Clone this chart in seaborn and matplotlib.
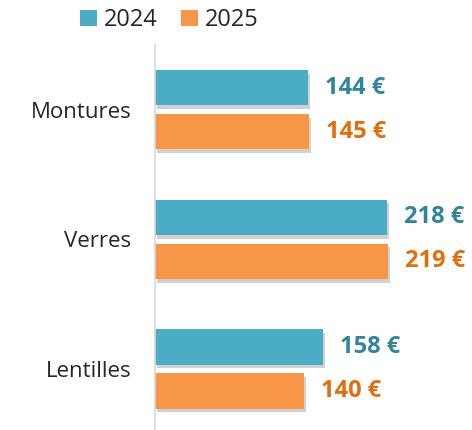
import pandas as pd
import numpy as np
import matplotlib.pyplot as plt
import matplotlib.patheffects as pe
import seaborn as sns

# ============================================
# DATA
# ============================================
categories = ["Montures", "Verres", "Lentilles"]
years = ["2024", "2025"]
values_2024 = [144, 218, 158]
values_2025 = [145, 219, 140]

bar_colors = {"2024": "#4BACC6", "2025": "#F79646"}
label_colors = {"2024": "#31849B", "2025": "#E46C0A"}

df = pd.DataFrame({
    "Poste": categories * 2,
    "Année": ["2024"] * 3 + ["2025"] * 3,
    "Montant": values_2024 + values_2025,
})

# ============================================
# PLOT
# ============================================
sns.set_style("white")
plt.rcParams["font.family"] = ["Open Sans", "DejaVu Sans"]

fig = plt.figure(figsize=(4.72, 4.30), dpi=100)
ax = fig.add_axes([155 / 472, 0.0, 1 - 155 / 472, (430 - 45) / 430])

sns.barplot(data=df, y="Poste", x="Montant", hue="Année", hue_order=years,
            order=categories, orient="h", palette=bar_colors, saturation=1,
            width=0.68, gap=0.2, linewidth=0, ax=ax, legend=True)

shadow = [pe.SimplePatchShadow(offset=(1.5, -2.5), shadow_rgbFace="#000000", alpha=0.18),
          pe.Normal()]
for year, cont in zip(years, ax.containers):
    for bar in cont:
        bar.set_path_effects(shadow)
    ax.bar_label(cont, labels=[f"{int(v)} €" for v in cont.datavalues],
                 padding=12, color=label_colors[year], fontsize=17,
                 fontweight="bold")

ax.set_xlim(0, 298)
ax.set_ylim(2.47, -0.5)
ax.set_xlabel("")
ax.set_ylabel("")
ax.set_xticks([])
ax.tick_params(axis="y", length=0, pad=17, labelsize=16, labelcolor="#262626")
for s in ["top", "right", "bottom"]:
    ax.spines[s].set_visible(False)
ax.spines["left"].set_color("#D9D9D9")
ax.spines["left"].set_linewidth(1.2)

handles, labels = ax.get_legend_handles_labels()
ax.get_legend().remove()
fig.legend(handles, labels, loc="upper left", bbox_to_anchor=(0.125, 1.03),
           ncol=2, frameon=False, fontsize=17, handlelength=0.7,
           handleheight=0.7, handletextpad=0.3, columnspacing=1.0,
           labelcolor="#262626")

fig.savefig("out.png", dpi=100)
plt.close()
